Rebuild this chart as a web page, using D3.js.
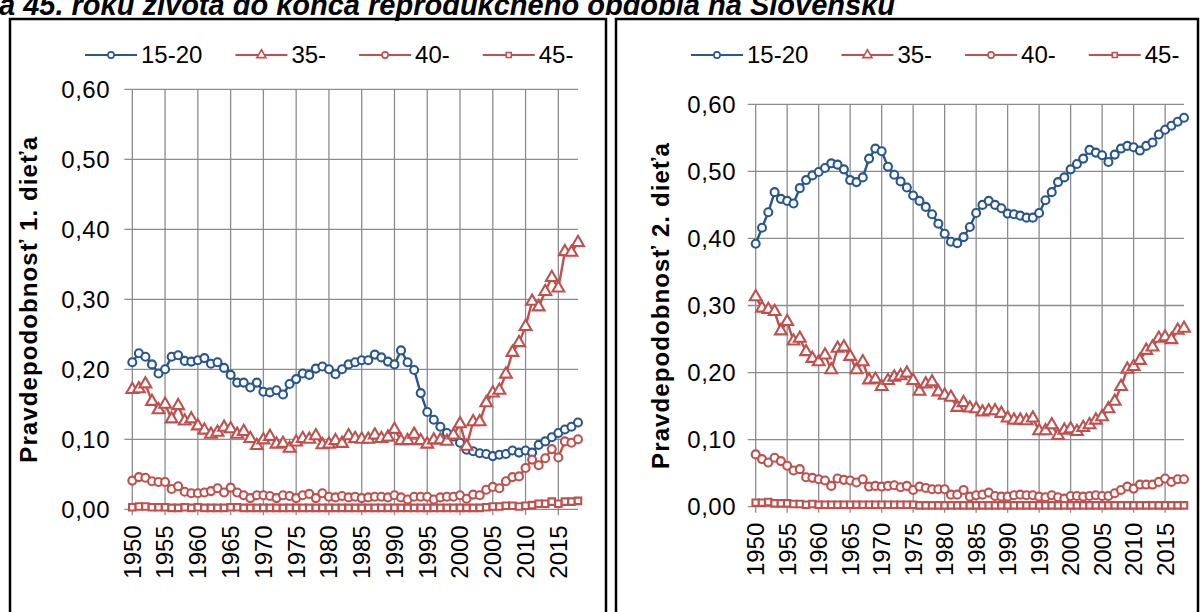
<!DOCTYPE html>
<html>
<head>
<meta charset="utf-8">
<script src="https://cdn.jsdelivr.net/npm/d3@7"></script>
<style>
  body { margin: 0; background: #fff; }
  svg { display: block; font-family: 'Liberation Sans', Arial, sans-serif; }
</style>
</head>
<body>
<svg id="chart" width="1201" height="612"></svg>
<script>
// categories
const years = d3.range(1950, 2019);
const xTicks = d3.range(1950, 2019, 5);
const yTicks = [0, 0.1, 0.2, 0.3, 0.4, 0.5, 0.6];
const seriesNames = ['15-20', '35-', '40-', '45-'];

// 1. dieťa
const first1520 = [0.210,0.223,0.218,0.207,0.194, 0.200,0.218,0.220,0.212,0.211, 0.213,0.216,0.208,0.210,0.202,
  0.192,0.181,0.181,0.174,0.181, 0.168,0.167,0.170,0.164,0.179, 0.186,0.194,0.192,0.201,0.204,
  0.200,0.193,0.200,0.207,0.210, 0.213,0.213,0.221,0.217,0.211, 0.207,0.227,0.210,0.199,0.166,
  0.139,0.128,0.118,0.109,0.104, 0.095,0.085,0.083,0.080,0.079, 0.076,0.078,0.079,0.084,0.081,
  0.084,0.081,0.092,0.097,0.103, 0.109,0.114,0.118,0.124];
const first35 = [0.171,0.172,0.179,0.154,0.142, 0.150,0.129,0.148,0.126,0.129, 0.119,0.113,0.107,0.110,0.117,
  0.115,0.107,0.111,0.101,0.091, 0.099,0.104,0.093,0.094,0.087, 0.096,0.101,0.100,0.105,0.092,
  0.093,0.098,0.094,0.105,0.101, 0.100,0.100,0.106,0.101,0.103, 0.114,0.098,0.098,0.107,0.098,
  0.093,0.099,0.099,0.097,0.106, 0.122,0.090,0.125,0.125,0.152, 0.166,0.170,0.193,0.224,0.238,
  0.261,0.297,0.289,0.311,0.331, 0.316,0.368,0.367,0.381];
const first40 = [0.041,0.046,0.045,0.040,0.039, 0.039,0.029,0.033,0.025,0.023, 0.023,0.024,0.026,0.030,0.024,
  0.031,0.024,0.020,0.016,0.020, 0.020,0.019,0.016,0.020,0.019, 0.016,0.020,0.022,0.016,0.023,
  0.018,0.017,0.019,0.017,0.018, 0.016,0.017,0.018,0.018,0.017, 0.020,0.017,0.014,0.018,0.018,
  0.018,0.014,0.017,0.018,0.018, 0.020,0.015,0.021,0.020,0.028, 0.032,0.030,0.040,0.046,0.047,
  0.059,0.071,0.063,0.073,0.086, 0.074,0.097,0.095,0.100];
const first45 = [0.003,0.004,0.004,0.003,0.003, 0.003,0.002,0.002,0.003,0.002, 0.003,0.002,0.002,0.002,0.002,
  0.003,0.003,0.002,0.002,0.002, 0.002,0.002,0.002,0.002,0.002, 0.002,0.002,0.002,0.002,0.002,
  0.002,0.002,0.002,0.002,0.002, 0.002,0.002,0.002,0.002,0.002, 0.002,0.002,0.002,0.002,0.002,
  0.002,0.002,0.002,0.002,0.002, 0.002,0.002,0.002,0.002,0.003, 0.004,0.004,0.005,0.005,0.004,
  0.005,0.006,0.008,0.008,0.011, 0.008,0.011,0.011,0.012];

// 2. dieťa
const second1520 = [0.392,0.416,0.439,0.469,0.459, 0.456,0.452,0.475,0.487,0.494, 0.499,0.505,0.512,0.510,0.503,
  0.487,0.484,0.491,0.519,0.534, 0.530,0.507,0.495,0.485,0.476, 0.464,0.456,0.447,0.436,0.422,
  0.407,0.395,0.393,0.402,0.417, 0.438,0.450,0.456,0.450,0.445, 0.437,0.436,0.434,0.431,0.431,
  0.438,0.457,0.469,0.484,0.491, 0.503,0.511,0.519,0.532,0.528, 0.524,0.514,0.525,0.534,0.538,
  0.536,0.531,0.538,0.543,0.555, 0.562,0.568,0.574,0.580];
const second35 = [0.313,0.296,0.294,0.291,0.262, 0.276,0.247,0.251,0.231,0.221, 0.216,0.226,0.204,0.236,0.238,
  0.224,0.204,0.216,0.189,0.190, 0.179,0.188,0.193,0.195,0.199, 0.188,0.172,0.183,0.186,0.171,
  0.166,0.163,0.148,0.155,0.147, 0.146,0.141,0.143,0.143,0.139, 0.132,0.129,0.129,0.128,0.132,
  0.113,0.113,0.122,0.106,0.114, 0.116,0.112,0.118,0.122,0.129, 0.134,0.146,0.157,0.179,0.205,
  0.209,0.218,0.233,0.238,0.251, 0.253,0.249,0.263,0.266];
const second40 = [0.078,0.071,0.066,0.073,0.068, 0.061,0.054,0.056,0.044,0.043, 0.041,0.039,0.031,0.042,0.040,
  0.039,0.036,0.041,0.030,0.031, 0.030,0.031,0.032,0.029,0.031, 0.025,0.030,0.028,0.026,0.026,
  0.026,0.018,0.018,0.025,0.015, 0.017,0.018,0.021,0.016,0.015, 0.015,0.017,0.018,0.017,0.017,
  0.015,0.014,0.017,0.014,0.012, 0.016,0.016,0.015,0.016,0.017, 0.016,0.016,0.020,0.025,0.030,
  0.027,0.033,0.033,0.033,0.037, 0.042,0.037,0.041,0.041];
const second45 = [0.006,0.006,0.007,0.005,0.005, 0.005,0.004,0.004,0.003,0.004, 0.003,0.003,0.003,0.003,0.003,
  0.003,0.003,0.003,0.003,0.003, 0.003,0.003,0.003,0.003,0.003, 0.003,0.002,0.002,0.002,0.002,
  0.002,0.002,0.002,0.002,0.002, 0.002,0.002,0.002,0.002,0.002, 0.002,0.002,0.002,0.002,0.002,
  0.002,0.002,0.002,0.002,0.002, 0.002,0.002,0.002,0.002,0.002, 0.002,0.002,0.002,0.002,0.002,
  0.002,0.002,0.002,0.002,0.002, 0.002,0.002,0.002,0.002];

const blue = '#28568f';
const red = '#c0504d';
const grid = '#8c8c8c';
const colors = [blue, red, red, red];
const symbols = [d3.symbolCircle, d3.symbolTriangle, d3.symbolCircle, d3.symbolSquare];
const symSize = [50, 60, 50, 42];

const svg = d3.select('#chart');

svg.append('text')
  .attr('x', -1)
  .attr('y', 15)
  .style('font-size', '29px')
  .style('font-weight', 'bold')
  .style('font-style', 'italic')
  .text('a 45. roku života do konca reprodukčného obdobia na Slovensku');

const panels = [
  { title: 'Pravdepodobnosť 1. dieťa', data: [first1520, first35, first40, first45],
    box: [10, 19, 606, 640], x: [132.3, 578], y: [509.3, 89.3], titleX: 37, labelX: 110 },
  { title: 'Pravdepodobnosť 2. dieťa', data: [second1520, second35, second40, second45],
    box: [616, 19, 1198, 640], x: [755.7, 1184], y: [506.7, 104.3], titleX: 669, labelX: 736 }
];

panels.forEach(p => {
  const g = svg.append('g');

  g.append('rect')
    .attr('x', p.box[0])
    .attr('y', p.box[1])
    .attr('width', p.box[2] - p.box[0])
    .attr('height', p.box[3] - p.box[1])
    .style('fill', 'none')
    .style('stroke', '#000')
    .style('stroke-width', 2.5);

  const x = d3.scaleLinear().domain([1950, 2018]).range(p.x);
  const y = d3.scaleLinear().domain([0, 0.6]).range(p.y);

  // gridlines
  g.selectAll('.hgrid').data(yTicks).enter().append('line')
    .attr('x1', p.x[0] - 8).attr('x2', p.x[1])
    .attr('y1', d => y(d)).attr('y2', d => y(d))
    .style('stroke', grid).style('stroke-width', 1.3);

  g.selectAll('.vgrid').data(xTicks).enter().append('line')
    .attr('x1', d => x(d)).attr('x2', d => x(d))
    .attr('y1', y(0.6)).attr('y2', y(0) + 6)
    .style('stroke', grid).style('stroke-width', 1.3);

  // tick labels
  g.selectAll('.ylab').data(yTicks).enter().append('text')
    .attr('x', p.labelX)
    .attr('y', d => y(d))
    .attr('dy', '0.35em')
    .style('text-anchor', 'end')
    .style('font-size', '24px')
    .style('letter-spacing', '0.5px')
    .text(d => d3.format('.2f')(d).replace('.', ','));

  g.selectAll('.xlab').data(xTicks).enter().append('text')
    .attr('transform', d => `translate(${x(d)},${y(0) + 16}) rotate(-90)`)
    .attr('dy', '0.35em')
    .style('text-anchor', 'end')
    .style('font-size', '24px')
    .text(d => d);

  g.append('text')
    .attr('transform', `translate(${p.titleX},${(p.y[0] + p.y[1]) / 2}) rotate(-90)`)
    .style('text-anchor', 'middle')
    .style('font-size', '24px')
    .style('font-weight', 'bold')
    .style('letter-spacing', '1.1px')
    .text(p.title);

  // series
  const line = d3.line().x((d, i) => x(years[i])).y(d => y(d));
  p.data.forEach((vals, k) => {
    g.append('path')
      .attr('d', line(vals))
      .style('fill', 'none')
      .style('stroke', colors[k])
      .style('stroke-width', 2.4);
    g.selectAll('.m' + k).data(vals).enter().append('path')
      .attr('transform', (d, i) => `translate(${x(years[i])},${y(d)})`)
      .attr('d', d3.symbol().type(symbols[k]).size(symSize[k]))
      .style('fill', '#fff')
      .style('stroke', colors[k])
      .style('stroke-width', 2.1);
  });

  // legend
  let lx = p.box[0] + 75;
  const ly = 55;
  seriesNames.forEach((name, k) => {
    g.append('line')
      .attr('x1', lx).attr('x2', lx + 52)
      .attr('y1', ly).attr('y2', ly)
      .style('stroke', colors[k]).style('stroke-width', 2.2);
    g.append('path')
      .attr('transform', `translate(${lx + 26},${ly})`)
      .attr('d', d3.symbol().type(symbols[k]).size(symSize[k] * 0.6))
      .style('fill', '#fff')
      .style('stroke', colors[k])
      .style('stroke-width', 1.6);
    const t = g.append('text')
      .attr('x', lx + 56)
      .attr('y', ly)
      .attr('dy', '0.35em')
      .style('font-size', '24px')
      .text(name);
    lx += 56 + t.node().getComputedTextLength() + 33;
  });
});
</script>
</body>
</html>
